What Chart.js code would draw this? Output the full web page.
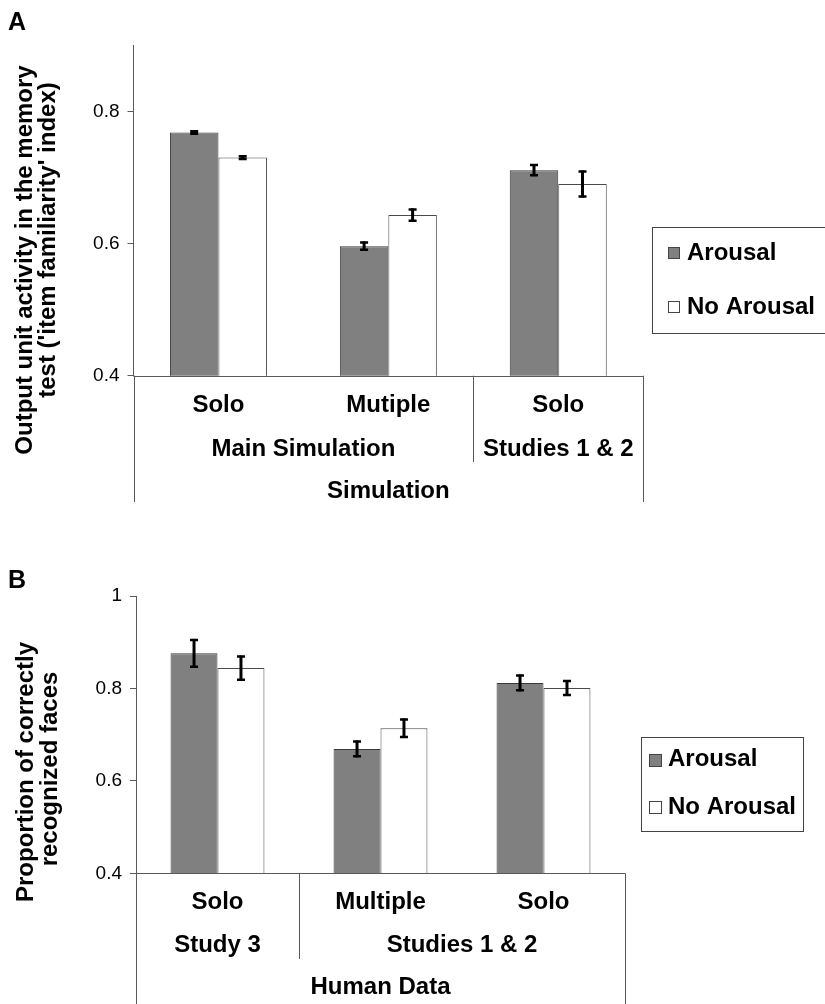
<!DOCTYPE html>
<html><head><meta charset="utf-8">
<script src="https://cdn.jsdelivr.net/npm/chart.js@4/dist/chart.umd.min.js"></script>
<style>
html,body{margin:0;padding:0;background:#fff;}
#wrap{position:relative;width:825px;height:1004px;overflow:hidden;background:#fff;}
canvas{position:absolute;left:0;}
</style></head><body>
<div id="wrap">
<canvas id="cA" width="825" height="520" style="top:0;width:825px;height:520px"></canvas>
<canvas id="cB" width="825" height="464" style="top:540px;width:825px;height:464px"></canvas>
</div>
<script>
// ---------- data ----------
const seriesNames = ['Arousal', 'No Arousal'];

const categoriesA = ['Solo', 'Mutiple', 'Solo'];
const groupsA = ['Main Simulation', 'Studies 1 & 2'];
const groupSpansA = [[0, 1], [2, 2]];
const superA = 'Simulation';
const arousalA = [0.768, 0.596, 0.711];
const noArousalA = [0.730, 0.643, 0.690];
const errArousalA = [0.002, 0.0055, 0.0076];
const errNoArousalA = [0.002, 0.0086, 0.019];
const yTicksA = [0.4, 0.6, 0.8];
const yRangeA = [0.4, 0.9];
const yTitleA = ['Output unit activity in the memory', "test ('item familiarity' index)"];

const categoriesB = ['Solo', 'Multiple', 'Solo'];
const groupsB = ['Study 3', 'Studies 1 & 2'];
const groupSpansB = [[0, 0], [1, 2]];
const superB = 'Human Data';
const arousalB = [0.876, 0.669, 0.812];
const noArousalB = [0.844, 0.714, 0.801];
const errArousalB = [0.029, 0.016, 0.016];
const errNoArousalB = [0.025, 0.019, 0.015];
const yTicksB = [0.4, 0.6, 0.8, 1];
const yRangeB = [0.4, 1];
const yTitleB = ['Proportion of correctly', 'recognized faces'];

// ---------- styling ----------
const FONT = '"Liberation Sans", Arial, Helvetica, sans-serif';
const LINE = '#595959';
const fillColors = ['#808080', '#ffffff'];
const borderColors = ['#3a3a3a', '#4a4a4a'];

function crisp(v){ return Math.round(v) + 0.5; }

function makeDecor(cfg){
  return {
    id: 'decor',
    afterDatasetsDraw(chart){
      const ctx = chart.ctx, ys = chart.scales.y;
      ctx.save();
      ctx.strokeStyle = '#000';
      chart.data.datasets.forEach((ds, i) => {
        const meta = chart.getDatasetMeta(i);
        meta.data.forEach((bar, j) => {
          const v = ds.data[j], e = ds.errors[j];
          const yt = ys.getPixelForValue(v + e), yb = ys.getPixelForValue(v - e);
          const bx = bar.x;
          ctx.lineWidth = 3;
          ctx.beginPath(); ctx.moveTo(bx, yt - 1); ctx.lineTo(bx, yb + 1); ctx.stroke();
          ctx.lineWidth = 2.5;
          ctx.beginPath();
          ctx.moveTo(bx - 4, yt); ctx.lineTo(bx + 4, yt);
          ctx.moveTo(bx - 4, yb); ctx.lineTo(bx + 4, yb);
          ctx.stroke();
        });
      });
      ctx.restore();
    },
    afterDraw(chart){
      const ctx = chart.ctx, xs = chart.scales.x, ca = chart.chartArea;
      const n = chart.data.labels.length;
      const cw = (ca.right - ca.left) / n;
      const base = ca.bottom;
      ctx.save();
      // baseline and frame lines
      ctx.strokeStyle = LINE; ctx.lineWidth = 1;
      ctx.beginPath();
      ctx.moveTo(ca.left, crisp(base)); ctx.lineTo(ca.right, crisp(base));
      ctx.moveTo(crisp(ca.left), base); ctx.lineTo(crisp(ca.left), cfg.leftBottom);
      ctx.moveTo(crisp(ca.right), base); ctx.lineTo(crisp(ca.right), cfg.rightBottom);
      cfg.spans.forEach((sp, k) => {
        if (k < cfg.spans.length - 1) {
          const bxp = (xs.getPixelForValue(sp[1]) + xs.getPixelForValue(sp[1] + 1)) / 2;
          ctx.moveTo(crisp(bxp), base); ctx.lineTo(crisp(bxp), cfg.sepBottom);
        }
      });
      ctx.stroke();
      // labels
      ctx.fillStyle = '#000';
      ctx.font = 'bold 24px ' + FONT;
      ctx.textAlign = 'center'; ctx.textBaseline = 'middle';
      chart.data.labels.forEach((lab, i) => {
        ctx.fillText(lab, xs.getPixelForValue(i), base + cfg.rows[0]);
      });
      cfg.groups.forEach((g, k) => {
        const sp = cfg.spans[k];
        const l = xs.getPixelForValue(sp[0]) - cw / 2, r = xs.getPixelForValue(sp[1]) + cw / 2;
        ctx.fillText(g, (l + r) / 2, base + cfg.rows[1]);
      });
      ctx.fillText(cfg.superLabel, (ca.left + ca.right) / 2, base + cfg.rows[2]);
      // y title
      ctx.textBaseline = 'alphabetic';
      cfg.yTitle.forEach((t, k) => {
        ctx.save();
        ctx.translate(cfg.titleX[k], cfg.titleY[k]);
        ctx.rotate(-Math.PI / 2);
        ctx.fillText(t, 0, 0);
        ctx.restore();
      });
      // panel letter
      ctx.textAlign = 'left';
      ctx.font = 'bold 25px ' + FONT;
      ctx.fillText(cfg.panel, 8, cfg.panelY);
      // legend
      const L = cfg.legend;
      ctx.strokeStyle = '#444'; ctx.lineWidth = 1;
      ctx.strokeRect(crisp(L.x), crisp(L.y), L.w, L.h);
      ctx.font = 'bold 24px ' + FONT;
      ctx.textBaseline = 'middle';
      chart.data.datasets.forEach((ds, i) => {
        const sy = L.sy[i];
        ctx.fillStyle = ds.backgroundColor;
        ctx.fillRect(L.sx, sy, L.s, L.s);
        ctx.strokeStyle = '#444';
        ctx.strokeRect(L.sx + 0.5, sy + 0.5, L.s - 1, L.s - 1);
        ctx.fillStyle = '#000';
        ctx.fillText(ds.label, L.tx, L.ty[i]);
      });
      ctx.restore();
    }
  };
}

function buildChart(id, labels, a, b, ea, eb, yTicks, yRange, opts, cfg){
  return new Chart(document.getElementById(id), {
    type: 'bar',
    data: {
      labels: labels,
      datasets: [
        { label: seriesNames[0], data: a, errors: ea, backgroundColor: fillColors[0], borderColor: borderColors[0], borderWidth: 1 },
        { label: seriesNames[1], data: b, errors: eb, backgroundColor: fillColors[1], borderColor: borderColors[1], borderWidth: 1 }
      ]
    },
    options: {
      responsive: false,
      animation: false,
      devicePixelRatio: 1,
      layout: { padding: opts.padding },
      datasets: { bar: { categoryPercentage: opts.catPct, barPercentage: 1, borderSkipped: 'bottom', inflateAmount: 0 } },
      plugins: { legend: { display: false }, tooltip: { enabled: false } },
      scales: {
        x: { display: false },
        y: {
          min: yRange[0], max: yRange[1],
          afterBuildTicks: s => { s.ticks = yTicks.map(v => ({ value: v })); },
          afterFit: s => { s.width = opts.yWidth; },
          grid: { drawOnChartArea: false, drawTicks: true, tickLength: 6, color: LINE },
          border: { display: true, color: LINE, width: 1 },
          ticks: { font: { family: FONT, size: 19 }, color: '#000', padding: 8,
                   callback: v => String(Math.round(v * 10) / 10) }
        }
      }
    },
    plugins: [makeDecor(cfg)]
  });
}

buildChart('cA', categoriesA, arousalA, noArousalA, errArousalA, errNoArousalA, yTicksA, yRangeA,
  { padding: { top: 45.2, bottom: 144.3, left: 0, right: 181.8 }, yWidth: 133.5, catPct: 0.571 },
  { spans: groupSpansA, groups: groupsA, superLabel: superA, rows: [29.5, 74, 116],
    leftBottom: 502, rightBottom: 502, sepBottom: 462,
    yTitle: yTitleA, titleX: [32, 55], titleY: [260, 240], panel: 'A', panelY: 30,
    legend: { x: 652, y: 227, w: 200, h: 106, sx: 668, s: 12, sy: [247, 301], tx: 687, ty: [253, 307] } });

buildChart('cB', categoriesB, arousalB, noArousalB, errArousalB, errNoArousalB, yTicksB, yRangeB,
  { padding: { top: 56, bottom: 130.7, left: 0, right: 200 }, yWidth: 136, catPct: 0.576 },
  { spans: groupSpansB, groups: groupsB, superLabel: superB, rows: [29.5, 72, 114],
    leftBottom: 464, rightBottom: 464, sepBottom: 419,
    yTitle: yTitleB, titleX: [33, 57], titleY: [232, 229], panel: 'B', panelY: 48,
    legend: { x: 641, y: 197, w: 162, h: 94, sx: 649, s: 13, sy: [214, 261], tx: 668, ty: [219, 267] } });
</script>
</body></html>
